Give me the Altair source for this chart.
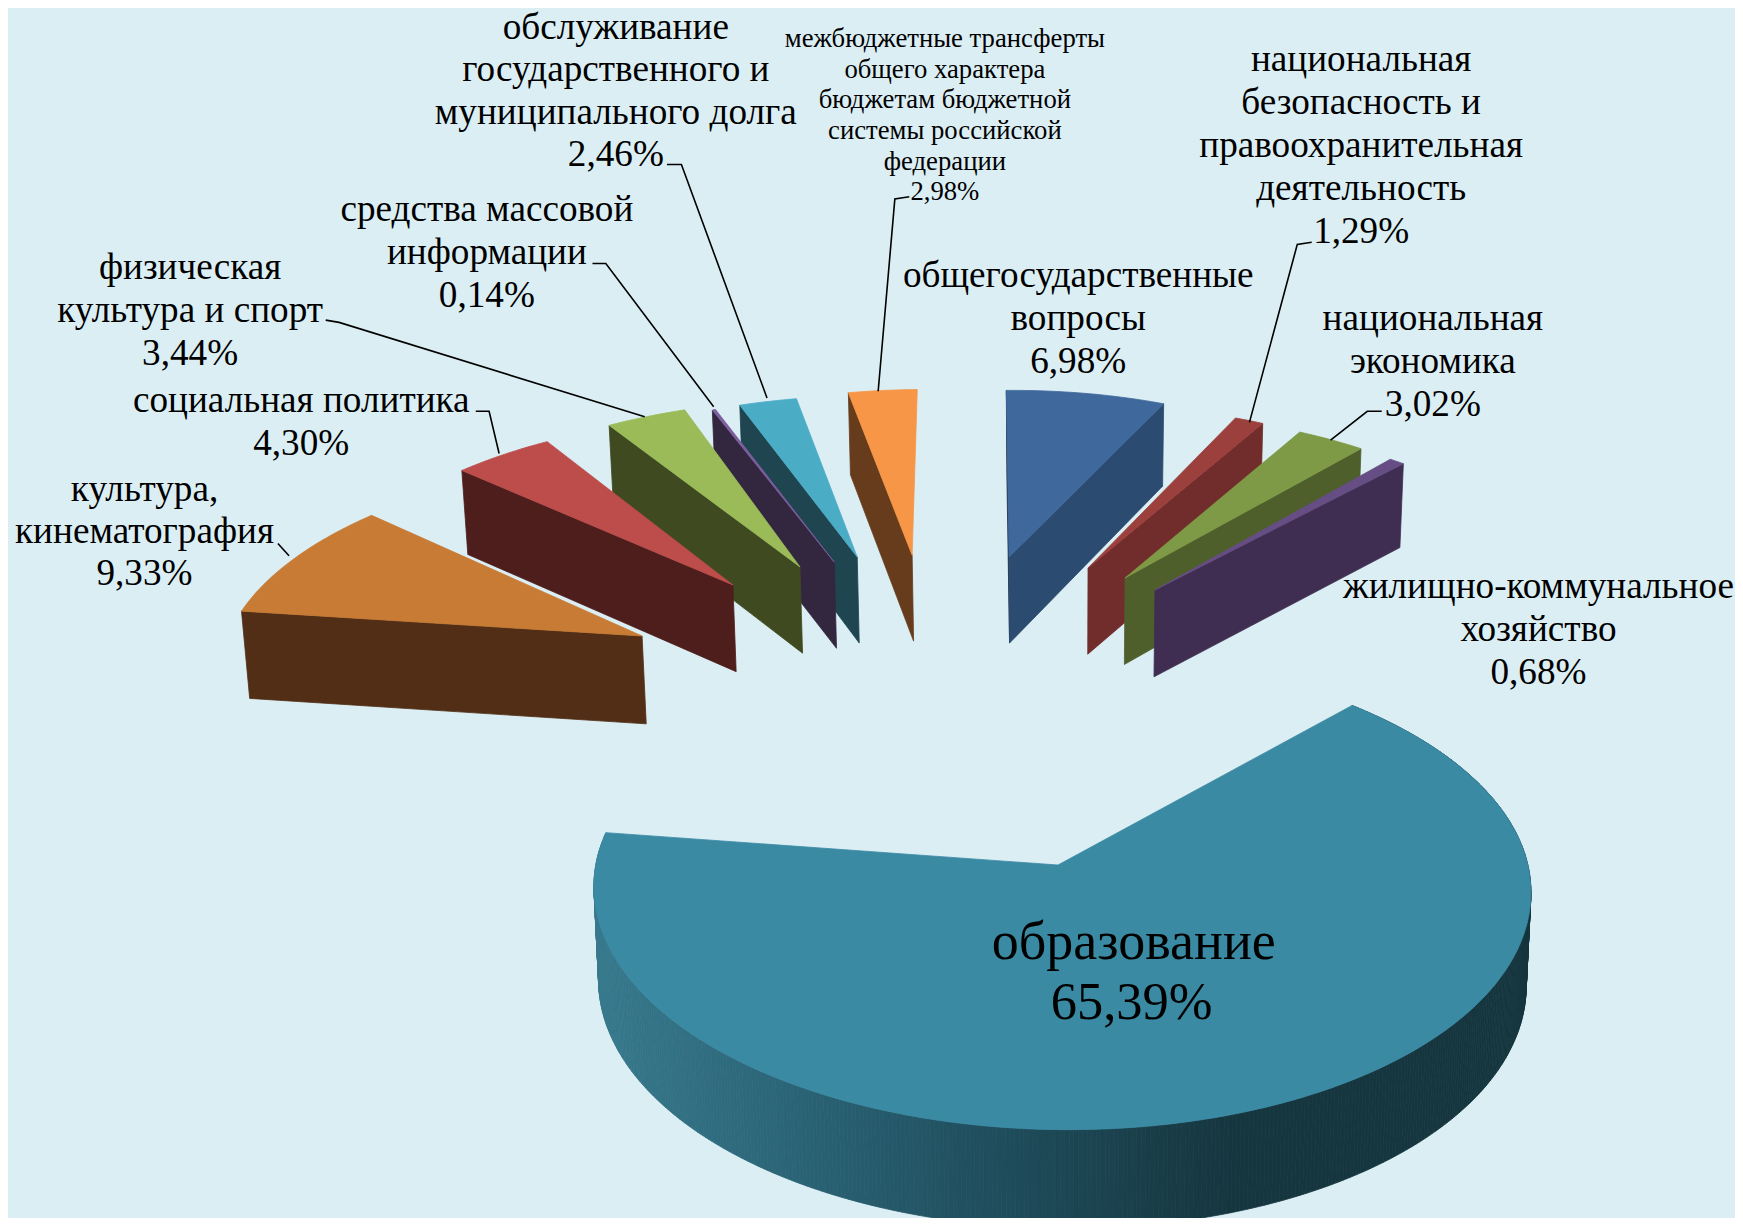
import math
import altair as alt
import pandas as pd

# ---- data -----------------------------------------------------------------
names = ["образование", "культура, кинематография", "социальная политика",
         "физическая культура и спорт", "средства массовой информации",
         "обслуживание государственного и муниципального долга",
         "межбюджетные трансферты", "общегосударственные вопросы",
         "национальная безопасность и правоохранительная деятельность",
         "национальная экономика", "жилищно-коммунальное хозяйство"]
shares = [65.39, 9.33, 4.30, 3.44, 0.14, 2.46, 2.98, 6.98, 1.29, 3.02, 0.68]
top_col = ["#3B8AA3", "#C87B35", "#BC4D4B", "#9BBB59", "#7D5FA0", "#4BACC6",
           "#F79646", "#3F689C", "#9C403E", "#7E9A47", "#664E85"]
side_col = ["#16363F", "#512E15", "#4E1E1D", "#3F4A20", "#33263F", "#1E4550",
            "#663C1C", "#2C4B70", "#702D2B", "#4F5F2C", "#3F2E52"]
# explosion of each slice on the ground plane (pie radius = 1)
explode_x = [0, -0.965, -0.773, -0.619, -0.538, -0.484, -0.352, -0.118, 0.072, 0.160, 0.230]
explode_z = [0, -1.090, -1.366, -1.467, -1.494, -1.523, -1.534, -1.523, -1.461, -1.405, -1.338]
radius_x = [0.975, 0.96, 0.965, 0.975, 1.0, 0.98, 0.97, 0.965, 0.95, 0.96, 0.96]
radius_z = [1.0, 1.03, 1.025, 1.03, 1.0, 1.0, 1.03, 1.035, 1.0, 1.0, 1.0]
draw_order = [6, 5, 4, 3, 2, 1, 7, 8, 9, 10, 0]

# camera
CX, CY, A, B, K = 1058, 865, 478, 233, 0.10
START = 48.0


def project(X, Z):
    w = 1 - K * Z
    return CX + A * X / w, CY + B * Z / w, w


def lower(x, y, w):
    return x + (CX - x) * 0.01, y + 93 / w ** 0.55


def lerp_hex(stops, t):
    for (t0, c0), (t1, c1) in zip(stops, stops[1:]):
        if t <= t1:
            f = max(0, (t - t0) / (t1 - t0))
            a = [int(c0[i:i + 2], 16) for i in (1, 3, 5)]
            b = [int(c1[i:i + 2], 16) for i in (1, 3, 5)]
            return "#" + "".join(f"{round(p + (q - p) * f):02x}" for p, q in zip(a, b))
    return stops[-1][1]


edge_stops = [(594, "#387A8E"), (800, "#2A6375"), (1000, "#1F4D5C"), (1230, "#16363F"), (1600, "#16363F")]
rows = []
pid = 0


def add_poly(points, colour):
    global pid
    for n, (x, y) in enumerate(list(points) + [points[0]]):
        rows.append({"x": x, "y": y, "poly": pid, "ord": n, "col": colour})
    pid += 1


# slice angles from the shares
starts, ends = [], []
a = START
for s in shares:
    starts.append(a)
    a -= s * 3.6
    ends.append(a)

for i in draw_order:
    ex, ez = explode_x[i], explode_z[i]
    t0, t1 = starts[i], ends[i]
    steps = max(2, int(abs(t0 - t1) * (2 if i == 0 else 1)))
    rim = []
    for n in range(steps + 1):
        t = math.radians(t0 + (t1 - t0) * n / steps)
        c, s_ = math.cos(t), math.sin(t)
        px, pz = radius_x[i] * c, -radius_z[i] * s_
        if i == 0:
            # the large slice: a little deeper towards the viewer, slightly turned
            if s_ < 0:
                pz *= 1.02
            px += 0.008
            pz += 0.012 * c
        rim.append(project(ex + px, ez + pz))
    ax, ay, aw = project(ex, ez)
    bx, by = lower(ax, ay, aw)
    if i == 0:
        for p, q in zip(rim, rim[1:]):
            pb, qb = lower(*p), lower(*q)
            mid = (pb[0] + qb[0]) / 2
            add_poly([p[:2], q[:2], qb, pb], lerp_hex(edge_stops, mid))
    elif i <= 6:
        e = rim[0]
        add_poly([e[:2], (ax, ay), (bx, by), lower(*e)], side_col[i])
    else:
        if i == 7:
            e = rim[0]
            add_poly([e[:2], (ax, ay), (bx, by), lower(*e)], "#1C2F47")
        e = rim[-1]
        add_poly([e[:2], (ax, ay), (bx, by), lower(*e)], side_col[i])
    add_poly([(ax, ay)] + [r[:2] for r in rim], top_col[i])

S = 1743 / 1568
label_lines = [["обслуживание", "государственного и", "муниципального долга", "2,46%"],
               ["средства массовой", "информации", "0,14%"],
               ["физическая", "культура и спорт", "3,44%"],
               ["социальная политика", "4,30%"],
               ["культура,", "кинематография", "9,33%"],
               ["общегосударственные", "вопросы", "6,98%"],
               ["национальная", "безопасность и", "правоохранительная", "деятельность", "1,29%"],
               ["национальная", "экономика", "3,02%"],
               ["жилищно-коммунальное", "хозяйство", "0,68%"]]
label_cx = [554, 438, 171, 271, 130, 970, 1224.5, 1289, 1384]
label_y0 = [25.5, 189, 241, 361, 441, 248, 54, 287, 528]
label_step = [37.9, 38.7, 38.7, 38.7, 37.5, 38.7, 38.7, 38.7, 38.7]
small_lines = ["межбюджетные трансферты", "общего характера", "бюджетам бюджетной",
               "системы российской", "федерации", "2,98%"]
big_lines = ["образование", "65,39%"]

text_rows = []
for lines, cx, y0, st in zip(label_lines, label_cx, label_y0, label_step):
    for n, t in enumerate(lines):
        text_rows.append({"x": cx * S, "y": (y0 + n * st) * S, "t": t})
small_rows = [{"x": 850 * S, "y": (35 + n * 27.6) * S, "t": t} for n, t in enumerate(small_lines)]
big_rows = [{"x": 1020 * S, "y": 848 * S, "t": big_lines[0]}]
pct_rows = [{"x": 1018 * S, "y": 902 * S, "t": big_lines[1]}]

leader_paths = [[(600, 148), (613, 148), (690, 358)],
                [(818, 177), (805, 179), (790, 352)],
                [(1180, 218), (1167, 220), (1124, 380)],
                [(1243, 370), (1230, 370), (1197, 396)],
                [(533, 237), (545, 237), (642, 366)],
                [(293, 288), (305, 290), (580, 375)],
                [(428, 370), (440, 370), (449, 408)],
                [(250, 489), (260, 500)]]
leader_rows = []
for k, path in enumerate(leader_paths):
    for n, (x, y) in enumerate(path):
        leader_rows.append({"x": x * S, "y": y * S, "id": k, "ord": n})

xs = alt.Scale(domain=[8, 1735], range=[0, 1727], nice=False, zero=False)
ys = alt.Scale(domain=[1218, 8], range=[1210, 0], nice=False, zero=False)
X = alt.X("x:Q", scale=xs, axis=None)
Y = alt.Y("y:Q", scale=ys, axis=None)

polys = alt.Chart(pd.DataFrame(rows)).mark_line(strokeWidth=0.8, clip=True, interpolate="linear").encode(
    x=X, y=Y, detail="poly:N", order="ord:Q",
    fill=alt.Fill("col:N", scale=None), stroke=alt.Stroke("col:N", scale=None))
leaders = alt.Chart(pd.DataFrame(leader_rows)).mark_line(color="#000000", strokeWidth=1.6).encode(
    x=X, y=Y, detail="id:N", order="ord:Q")


def texts(rows_, size):
    return alt.Chart(pd.DataFrame(rows_)).mark_text(
        font="Liberation Serif", fontSize=size, color="#000000", align="center", baseline="middle"
    ).encode(x=X, y=Y, text="t:N")


chart = alt.layer(polys, leaders, texts(text_rows, 37.2), texts(small_rows, 26.7),
                  texts(big_rows, 54), texts(pct_rows, 52.5)).properties(
    width=1727, height=1210, padding=0, autosize=alt.AutoSizeParams(type="none"), background="#DBEEF4"
).configure_view(stroke=None)
chart.save("out.html", embed_options={"renderer": "svg", "actions": False})
